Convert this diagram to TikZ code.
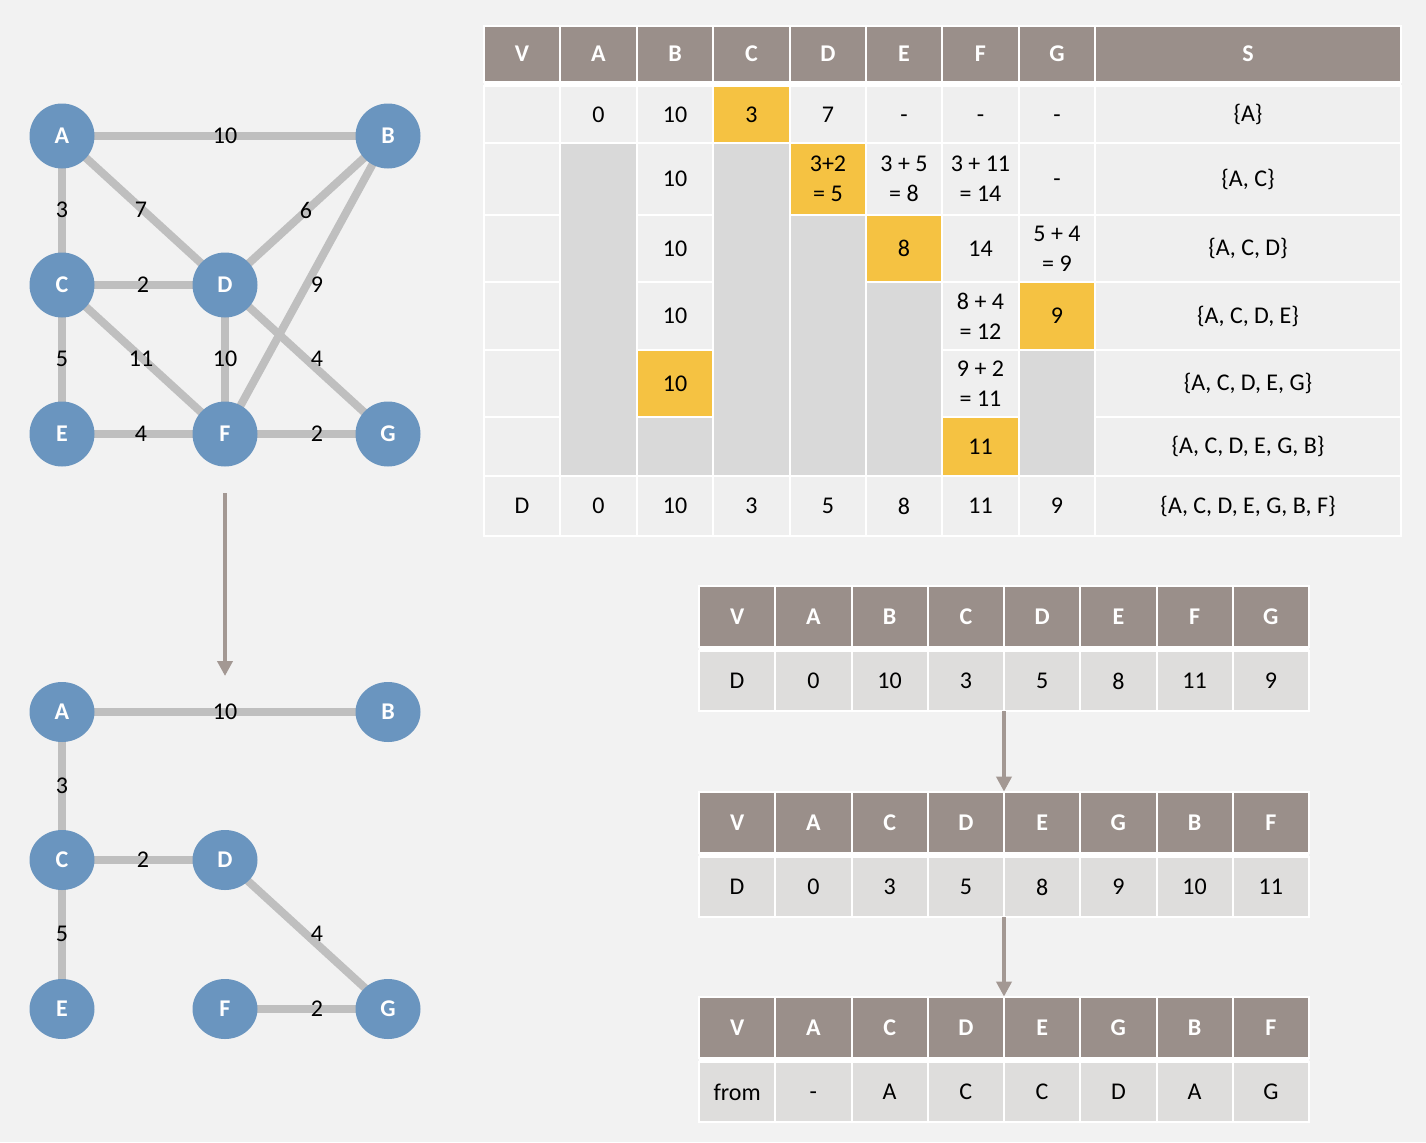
\documentclass[tikz,border=0pt]{standalone}
\usepackage{fontspec}
\setmainfont{Carlito}
\usetikzlibrary{arrows.meta,shapes.geometric}
\definecolor{bgc}{HTML}{F2F2F2}
\definecolor{nodec}{HTML}{6A95BF}
\definecolor{edgec}{HTML}{BFBFBF}
\definecolor{headc}{HTML}{9A8F8A}
\definecolor{lightc}{HTML}{EFEFEF}
\definecolor{greyc}{HTML}{D9D9D9}
\definecolor{yelc}{HTML}{F5C242}
\definecolor{rowc}{HTML}{DEDDDC}
\definecolor{arrc}{HTML}{A39893}
\pgfdeclarelayer{bg}
\pgfsetlayers{bg,main}
\newcommand{\tcell}[7]{%
  \pgfmathsetmacro{\cw}{(#4-#2)*0.5}%
  \pgfmathsetmacro{\ch}{(#5-#3)*0.5}%
  \node[cellbox,#6,minimum width=\cw pt,minimum height=\ch pt] (#1) at ({(#2+#4)/2},{(#3+#5)/2}) {#7};}
\newcommand{\dash}{\vphantom{0}-}
\tikzset{
  txt/.style={font=\fontsize{12}{15}\selectfont},
  cellbox/.style={draw=white,line width=1pt,inner sep=0pt,align=center,txt},
  hcell/.style={fill=headc,text=white,font=\bfseries\fontsize{12}{15}\selectfont},
  lcell/.style={fill=lightc},
  gcell/.style={fill=greyc},
  ycell/.style={fill=yelc},
  rcell/.style={fill=rowc},
  gnode/.style={circle,fill=nodec,minimum size=32.5pt,inner sep=0pt,text=white,font=\bfseries\fontsize{12}{15}\selectfont},
  enode/.style={ellipse,fill=nodec,minimum width=32.5pt,minimum height=30pt,inner sep=0pt,text=white,font=\bfseries\fontsize{12}{15}\selectfont},
  edge/.style={draw=edgec,line width=4pt},
  lbl/.style={inner sep=0pt,txt},
  arr/.style={draw=arrc,line width=2pt,-{Triangle[width=7.5pt,length=7.5pt]}},
  tabbg/.style={fill=white,inner sep=0pt}
}
\begin{document}
\begin{tikzpicture}[x=0.5pt,y=-0.5pt]
\begin{pgfonlayer}{bg}
\fill[bgc] (0,0) rectangle (1426,1142);
\end{pgfonlayer}
\useasboundingbox (0,0) rectangle (1426,1142);

% ---------- top graph ----------
\node[gnode] (A) at (62,136) {A};
\node[gnode] (B) at (388,136) {B};
\node[gnode] (C) at (62,285) {C};
\node[gnode] (D) at (225,285) {D};
\node[gnode] (E) at (62,434) {E};
\node[gnode] (F) at (225,434) {F};
\node[gnode] (G) at (388,434) {G};
\begin{pgfonlayer}{bg}
\draw[edge] (A.center) -- (B.center);
\draw[edge] (A.center) -- (C.center);
\draw[edge] (A.center) -- (D.center);
\draw[edge] (B.center) -- (D.center);
\draw[edge] (B.center) -- (F.center);
\draw[edge] (C.center) -- (D.center);
\draw[edge] (C.center) -- (E.center);
\draw[edge] (C.center) -- (F.center);
\draw[edge] (D.center) -- (F.center);
\draw[edge] (D.center) -- (G.center);
\draw[edge] (E.center) -- (F.center);
\draw[edge] (F.center) -- (G.center);
\end{pgfonlayer}
\node[lbl] (lAB) at (225,136) {10};
\node[lbl] (lAC) at (62,210) {3};
\node[lbl] (lAD) at (141,210) {7};
\node[lbl] (lBD) at (306,210) {6};
\node[lbl] (lCD) at (143,285) {2};
\node[lbl] (lBF) at (317,285) {9};
\node[lbl] (lCE) at (62,359) {5};
\node[lbl] (lCF) at (141,359) {11};
\node[lbl] (lDF) at (225,359) {10};
\node[lbl] (lDG) at (317,359) {4};
\node[lbl] (lEF) at (141,434) {4};
\node[lbl] (lFG) at (317,434) {2};

% ---------- arrow down ----------
\coordinate (arrS) at (225,493);
\coordinate (arrE) at (225,676);
\draw[arr] (arrS) -- (arrE);

% ---------- bottom graph ----------
\node[enode] (A2) at (62,712) {A};
\node[enode] (B2) at (388,712) {B};
\node[enode] (C2) at (62,860) {C};
\node[enode] (D2) at (225,860) {D};
\node[enode] (E2) at (62,1009) {E};
\node[enode] (F2) at (225,1009) {F};
\node[enode] (G2) at (388,1009) {G};
\begin{pgfonlayer}{bg}
\draw[edge] (A2.center) -- (B2.center);
\draw[edge] (A2.center) -- (C2.center);
\draw[edge] (C2.center) -- (D2.center);
\draw[edge] (C2.center) -- (E2.center);
\draw[edge] (D2.center) -- (G2.center);
\draw[edge] (F2.center) -- (G2.center);
\end{pgfonlayer}
\node[lbl] (mAB) at (225,712) {10};
\node[lbl] (mAC) at (62,786) {3};
\node[lbl] (mCD) at (143,860) {2};
\node[lbl] (mCE) at (62,934) {5};
\node[lbl] (mDG) at (317,934) {4};
\node[lbl] (mFG) at (317,1009) {2};

% ---------- top table ----------
\node[tabbg,minimum width=458.5pt,minimum height=255pt] (tab1) at (942.5,281) {};
\foreach \n/\a/\b/\t in {hV/484/560/V,hA/560/637/A,hB/637/713/B,hC/713/790/C,hD/790/866/D,hE/866/942/E,hF/942/1019/F,hG/1019/1095/G,hS/1095/1401/S}
  {\tcell{\n}{\a}{26}{\b}{82}{hcell}{\t}}
% row 1
\tcell{v1}{484}{86}{560}{143}{lcell}{}
\tcell{a1}{560}{86}{637}{143}{lcell}{0}
\tcell{b1}{637}{86}{713}{143}{lcell}{10}
\tcell{c1}{713}{86}{790}{143}{ycell}{3}
\tcell{d1}{790}{86}{866}{143}{lcell}{7}
\tcell{e1}{866}{86}{942}{143}{lcell}{\dash}
\tcell{f1}{942}{86}{1019}{143}{lcell}{\dash}
\tcell{g1}{1019}{86}{1095}{143}{lcell}{\dash}
\tcell{s1}{1095}{86}{1401}{143}{lcell}{\{A\}}
% row 2
\tcell{v2}{484}{143}{560}{215}{lcell}{}
\tcell{a2}{560}{143}{637}{476}{gcell}{}
\tcell{b2}{637}{143}{713}{215}{lcell}{10}
\tcell{c2}{713}{143}{790}{476}{gcell}{}
\tcell{d2}{790}{143}{866}{215}{ycell}{3+2\\= 5}
\tcell{e2}{866}{143}{942}{215}{lcell}{3 + 5\\= 8}
\tcell{f2}{942}{143}{1019}{215}{lcell}{3 + 11\\= 14}
\tcell{g2}{1019}{143}{1095}{215}{lcell}{\dash}
\tcell{s2}{1095}{143}{1401}{215}{lcell}{\{A, C\}}
% row 3
\tcell{v3}{484}{215}{560}{282}{lcell}{}
\tcell{b3}{637}{215}{713}{282}{lcell}{10}
\tcell{d3}{790}{215}{866}{476}{gcell}{}
\tcell{e3}{866}{215}{942}{282}{ycell}{8}
\tcell{f3}{942}{215}{1019}{282}{lcell}{14}
\tcell{g3}{1019}{215}{1095}{282}{lcell}{5 + 4\\= 9}
\tcell{s3}{1095}{215}{1401}{282}{lcell}{\{A, C, D\}}
% row 4
\tcell{v4}{484}{282}{560}{350}{lcell}{}
\tcell{b4}{637}{282}{713}{350}{lcell}{10}
\tcell{e4}{866}{282}{942}{476}{gcell}{}
\tcell{f4}{942}{282}{1019}{350}{lcell}{8 + 4\\= 12}
\tcell{g4}{1019}{282}{1095}{350}{ycell}{9}
\tcell{s4}{1095}{282}{1401}{350}{lcell}{\{A, C, D, E\}}
% row 5
\tcell{v5}{484}{350}{560}{417}{lcell}{}
\tcell{b5}{637}{350}{713}{417}{ycell}{10}
\tcell{f5}{942}{350}{1019}{417}{lcell}{9 + 2\\= 11}
\tcell{g5}{1019}{350}{1095}{476}{gcell}{}
\tcell{s5}{1095}{350}{1401}{417}{lcell}{\{A, C, D, E, G\}}
% row 6
\tcell{v6}{484}{417}{560}{476}{lcell}{}
\tcell{b6}{637}{417}{713}{476}{gcell}{}
\tcell{f6}{942}{417}{1019}{476}{ycell}{11}
\tcell{s6}{1095}{417}{1401}{476}{lcell}{\{A, C, D, E, G, B\}}
% row 7
\foreach \n/\a/\b/\t in {v7/484/560/D,a7/560/637/0,b7/637/713/10,c7/713/790/3,d7/790/866/5,e7/866/942/8,f7/942/1019/11,g7/1019/1095/9}
  {\tcell{\n}{\a}{476}{\b}{536}{lcell}{\t}}
\tcell{s7}{1095}{476}{1401}{536}{lcell}{\{A, C, D, E, G, B, F\}}

% ---------- small tables ----------
\node[tabbg,minimum width=305pt,minimum height=62.5pt] (t2) at (1004,648.5) {};
\node[tabbg,minimum width=305pt,minimum height=62.5pt] (t3) at (1004,854.5) {};
\node[tabbg,minimum width=305pt,minimum height=62.5pt] (t4) at (1004,1059.5) {};
\foreach \i/\h/\d in {0/V/D,1/A/0,2/B/10,3/C/3,4/D/5,5/E/8,6/F/11,7/G/9}{
  \pgfmathsetmacro{\xa}{699+\i*76.25}\pgfmathsetmacro{\xb}{\xa+76.25}
  \tcell{pH\i}{\xa}{586}{\xb}{647}{hcell}{\h}
  \tcell{pD\i}{\xa}{651}{\xb}{711}{rcell}{\d}}
\foreach \i/\h/\d in {0/V/D,1/A/0,2/C/3,3/D/5,4/E/8,5/G/9,6/B/10,7/F/11}{
  \pgfmathsetmacro{\xa}{699+\i*76.25}\pgfmathsetmacro{\xb}{\xa+76.25}
  \tcell{qH\i}{\xa}{792}{\xb}{853}{hcell}{\h}
  \tcell{qD\i}{\xa}{857}{\xb}{917}{rcell}{\d}}
\foreach \i/\h/\d in {0/V/from,1/A/\dash,2/C/A,3/D/C,4/E/C,5/G/D,6/B/A,7/F/G}{
  \pgfmathsetmacro{\xa}{699+\i*76.25}\pgfmathsetmacro{\xb}{\xa+76.25}
  \tcell{rH\i}{\xa}{997}{\xb}{1058}{hcell}{\h}
  \tcell{rD\i}{\xa}{1062}{\xb}{1122}{rcell}{\d}}
\draw[arr] (t2.south) -- (t3.north);
\draw[arr] (t3.south) -- (t4.north);
\end{tikzpicture}
\end{document}
